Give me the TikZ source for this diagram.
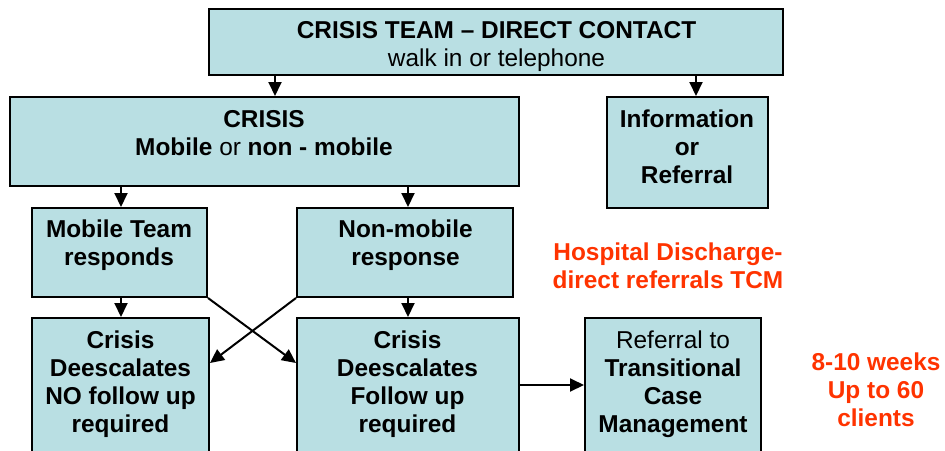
\documentclass[tikz,border=0pt]{standalone}
\usepackage{fontspec}
\setmainfont{Liberation Sans}
\usetikzlibrary{arrows.meta}
\definecolor{boxfill}{RGB}{185,223,227}
\definecolor{notered}{RGB}{255,51,0}
% centred stack of lines whose baseline is that of the first line
\newcommand{\stacklines}[1]{\begin{tabular}[t]{@{}c@{}}#1\end{tabular}}
\begin{document}
\begin{tikzpicture}[x=1pt,y=-1pt,
  box/.style={draw=black, line width=2pt, fill=boxfill, inner sep=0pt},
  txt/.style={anchor=base, inner sep=0pt, font=\fontsize{24.4}{28}\selectfont},
  note/.style={txt, text=notered, font=\fontsize{24.4}{28}\selectfont\bfseries},
  arr/.style={line width=2pt, -{Triangle[length=14pt,width=13pt]}}]

\useasboundingbox (0,0) rectangle (945,450);
\clip (0,0) rectangle (945,450);

% boxes
\node[box, minimum width=574, minimum height=66.5] (top)      at (496,41.75) {};
\node[box, minimum width=509, minimum height=89]   (crisis)   at (264.5,141.5) {};
\node[box, minimum width=161, minimum height=111]  (info)     at (687.5,152.5) {};
\node[box, minimum width=175, minimum height=89]   (mobile)   at (119.5,252.5) {};
\node[box, minimum width=216, minimum height=89]   (nonmob)   at (405,252.5) {};
\node[box, minimum width=177, minimum height=142]  (nofollow) at (120.5,389) {};
\node[box, minimum width=222, minimum height=142]  (follow)   at (408,389) {};
\node[box, minimum width=176, minimum height=142]  (tcm)      at (673,389) {};

% box texts
\node[txt] (topT) at (496.5,38) {\stacklines{\textbf{CRISIS TEAM – DIRECT CONTACT}\\walk in or telephone}};
\node[txt] (crisisT) at (264,127) {\stacklines{\textbf{CRISIS}\\\textbf{Mobile} or \textbf{non - mobile}}};
\node[txt] (infoT) at (687,127) {\stacklines{\textbf{Information}\\\textbf{or}\\\textbf{Referral}}};
\node[txt] (mobileT) at (119,237) {\stacklines{\textbf{Mobile Team}\\\textbf{responds}}};
\node[txt] (nonmobT) at (405.5,237) {\stacklines{\textbf{Non-mobile}\\\textbf{response}}};
\node[txt] (nofollowT) at (120.5,348) {\stacklines{\textbf{Crisis}\\\textbf{Deescalates}\\\textbf{NO follow up}\\\textbf{required}}};
\node[txt] (followT) at (407.5,348) {\stacklines{\textbf{Crisis}\\\textbf{Deescalates}\\\textbf{Follow up}\\\textbf{required}}};
\node[txt] (tcmT) at (673,348) {\stacklines{Referral to\\\textbf{Transitional}\\\textbf{Case}\\\textbf{Management}}};

% side notes
\node[note] (hosp) at (668,260) {\stacklines{Hospital Discharge-\\direct referrals TCM}};
\node[note] (weeks) at (876,370) {\stacklines{8-10 weeks\\Up to 60\\clients}};

% connectors
\draw[arr] ([xshift=-221]top.south) -- ([xshift=10.5]crisis.north);
\draw[arr] ([xshift=200]top.south) -- ([xshift=8.5]info.north);
\draw[arr] ([xshift=-143.5]crisis.south) -- ([xshift=1.5]mobile.north);
\draw[arr] ([xshift=143.5]crisis.south) -- ([xshift=3]nonmob.north);
\draw[arr] ([xshift=1.5]mobile.south) -- ([xshift=0.5]nofollow.north);
\draw[arr] ([xshift=3]nonmob.south) -- (follow.north);
\draw[arr] (mobile.south east) -- ([yshift=26]follow.west);
\draw[arr] (nonmob.south west) -- ([yshift=26]nofollow.east);
\draw[arr] ([yshift=4]follow.east) -- ([yshift=4]tcm.west);
\end{tikzpicture}
\end{document}
